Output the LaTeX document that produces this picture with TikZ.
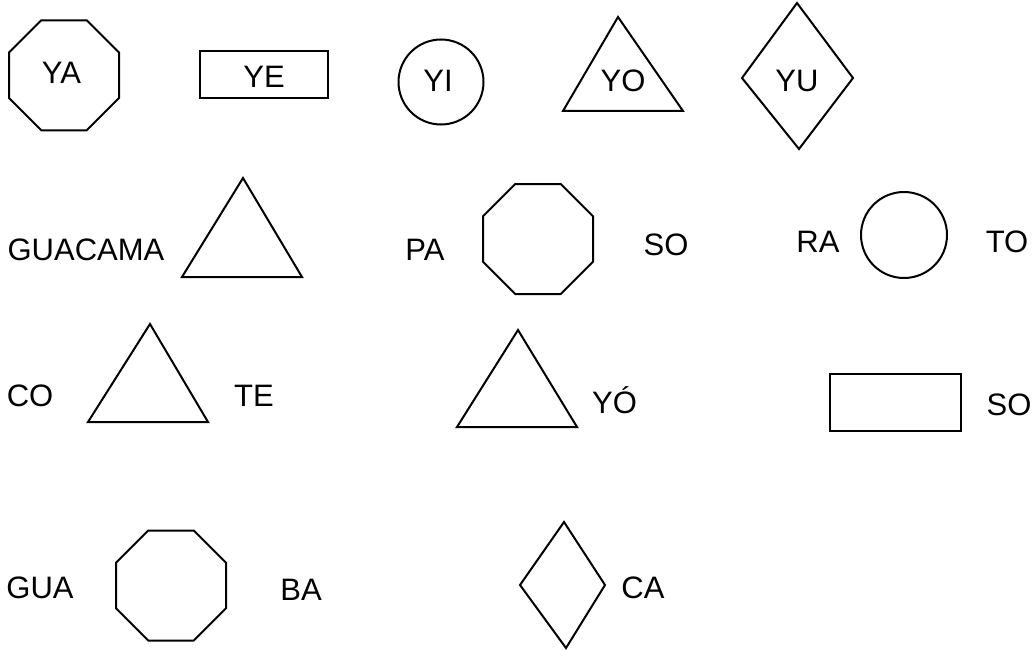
\documentclass[tikz,border=0pt]{standalone}
\usepackage{fontspec}
\setmainfont{Liberation Sans}
\newcommand{\octshape}[3]{% cx cy a
  \pgfmathsetmacro{\oi}{0.4142*#3}
  \draw[shape line] (#1-\oi,#2-#3) -- (#1+\oi,#2-#3) -- (#1+#3,#2-\oi) -- (#1+#3,#2+\oi)
    -- (#1+\oi,#2+#3) -- (#1-\oi,#2+#3) -- (#1-#3,#2+\oi) -- (#1-#3,#2-\oi) -- cycle;}
\begin{document}
\begin{tikzpicture}[x=1pt,y=-1pt,
  shape line/.style={draw=black,line width=2pt,line join=miter},
  lbl/.style={inner sep=0pt,font=\fontsize{31}{37}\selectfont,anchor=center}]
\useasboundingbox (0,0) rectangle (1035,650);
% ---- row 1
\octshape{64}{75.3}{55}
\node[lbl] (ya) at (61.5,73) {YA};
\draw[shape line] (200,51) rectangle (328,98);
\node[lbl] (ye) at (264,77) {YE};
\draw[shape line] (441,82) circle (42.5);
\node[lbl] (yi) at (438,81) {YI};
\draw[shape line] (563,111) -- (618,17) -- (683,111) -- cycle;
\node[lbl] (yo) at (623,81) {YO};
\draw[shape line] (797,3) -- (853,78) -- (799,149) -- (742,78) -- cycle;
\node[lbl] (yu) at (797,81) {YU};
% ---- row 2
\node[lbl] (guacama) at (86,250) {GUACAMA};
\draw[shape line] (182,277) -- (243,178) -- (302,277) -- cycle;
\node[lbl] (pa) at (425,250) {PA};
\octshape{538}{239}{55}
\node[lbl] (so1) at (666,245) {SO};
\node[lbl] (ra) at (818,242) {RA};
\draw[shape line] (904,235) circle (43);
\node[lbl] (to) at (1007,242) {TO};
% ---- row 3
\node[lbl] (co) at (30,396) {CO};
\draw[shape line] (88,422) -- (150,324) -- (208,422) -- cycle;
\node[lbl] (te) at (254,396) {TE};
\draw[shape line] (457,427) -- (518,330) -- (577,427) -- cycle;
\node[lbl,anchor=base west] (yoacc) at (592,413) {YÓ};
\draw[shape line] (830,374) rectangle (961,431);
\node[lbl] (so2) at (1009,405) {SO};
% ---- row 4
\node[lbl] (gua) at (40,588) {GUA};
\octshape{171}{585.5}{55}
\node[lbl] (ba) at (301,590) {BA};
\draw[shape line] (564,522) -- (605,585) -- (566,648) -- (520,585) -- cycle;
\node[lbl] (ca) at (643,588) {CA};
\end{tikzpicture}
\end{document}
